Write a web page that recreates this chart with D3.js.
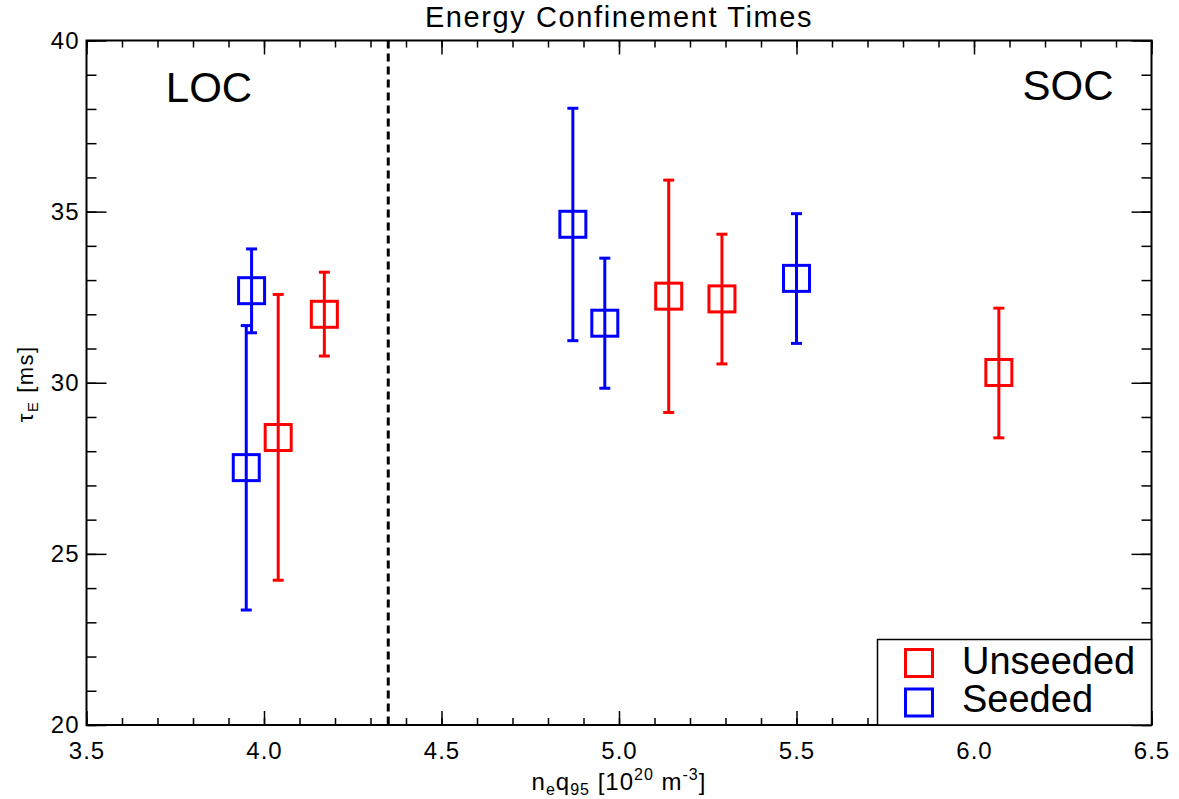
<!DOCTYPE html>
<html lang="en">

<head>
    <meta charset="UTF-8">
    <title>Energy Confinement Times</title>
    <script src="https://d3js.org/d3.v7.min.js"></script>
    <style>
        * {
            margin: 0;
            padding: 0;
        }

        body {
            background: #fff;
        }

        text {
            font-family: "Liberation Sans", Arial, Helvetica, sans-serif;
            fill: #000;
        }
    </style>
</head>

<body>
    <script>
        var width = 1179;
        var height = 799;
        var margin = { top: 40.5, right: 27.5, bottom: 74, left: 86.5 };

        // data
        var unseededX = [4.04, 4.17, 5.14, 5.29, 6.07];
        var unseededY = [28.4, 32.0, 32.53, 32.45, 30.3];
        var unseededLo = [24.23, 30.78, 29.13, 30.55, 28.39];
        var unseededHi = [32.58, 33.23, 35.92, 34.34, 32.18];

        var seededX = [3.95, 3.965, 4.87, 4.96, 5.50];
        var seededY = [27.52, 32.69, 34.63, 31.74, 33.05];
        var seededLo = [23.36, 31.46, 31.23, 29.84, 31.15];
        var seededHi = [31.67, 33.91, 38.02, 33.64, 34.94];

        var xTicks = [3.5, 4.0, 4.5, 5.0, 5.5, 6.0, 6.5];
        var yTicks = [20, 25, 30, 35, 40];
        var boundaryX = 4.35;

        var seriesNames = ['Unseeded', 'Seeded'];
        var seriesColors = ['#ff0000', '#0000ff'];

        var svg = d3.select('body')
            .append('svg')
            .attr('width', width)
            .attr('height', height);

        var xScale = d3.scaleLinear()
            .domain([3.5, 6.5])
            .range([margin.left, width - margin.right]);
        var yScale = d3.scaleLinear()
            .domain([20, 40])
            .range([height - margin.bottom, margin.top]);

        // minor ticks
        var xMinor = d3.range(35, 66).map(function (d) { return d / 10; });
        var yMinor = d3.range(20, 41);

        function styleAxis(g) {
            g.selectAll('.domain').remove();
            g.selectAll('line').attr('stroke', '#000').attr('stroke-width', 1.5);
            g.selectAll('text')
                .style('font-size', '24px')
                .style('letter-spacing', '1px')
                .attr('fill', '#000');
        }

        // bottom
        svg.append('g')
            .attr('transform', 'translate(0,' + yScale(20) + ')')
            .call(d3.axisBottom(xScale).tickValues(xMinor).tickSize(-7).tickFormat(''))
            .call(styleAxis);
        svg.append('g')
            .attr('transform', 'translate(0,' + yScale(20) + ')')
            .call(d3.axisBottom(xScale).tickValues(xTicks).tickSize(-14).tickPadding(17)
                .tickFormat(d3.format('.1f')))
            .call(styleAxis);
        // top
        svg.append('g')
            .attr('transform', 'translate(0,' + yScale(40) + ')')
            .call(d3.axisTop(xScale).tickValues(xMinor).tickSize(-7).tickFormat(''))
            .call(styleAxis);
        svg.append('g')
            .attr('transform', 'translate(0,' + yScale(40) + ')')
            .call(d3.axisTop(xScale).tickValues(xTicks).tickSize(-14).tickFormat(''))
            .call(styleAxis);
        // left
        svg.append('g')
            .attr('transform', 'translate(' + xScale(3.5) + ',0)')
            .call(d3.axisLeft(yScale).tickValues(yMinor).tickSize(-10).tickFormat(''))
            .call(styleAxis);
        svg.append('g')
            .attr('transform', 'translate(' + xScale(3.5) + ',0)')
            .call(d3.axisLeft(yScale).tickValues(yTicks).tickSize(-20).tickPadding(7)
                .tickFormat(d3.format('d')))
            .call(styleAxis);
        // right
        svg.append('g')
            .attr('transform', 'translate(' + xScale(6.5) + ',0)')
            .call(d3.axisRight(yScale).tickValues(yMinor).tickSize(-10).tickFormat(''))
            .call(styleAxis);
        svg.append('g')
            .attr('transform', 'translate(' + xScale(6.5) + ',0)')
            .call(d3.axisRight(yScale).tickValues(yTicks).tickSize(-20).tickFormat(''))
            .call(styleAxis);

        // frame
        svg.append('rect')
            .attr('x', xScale(3.5))
            .attr('y', yScale(40))
            .attr('width', xScale(6.5) - xScale(3.5))
            .attr('height', yScale(20) - yScale(40))
            .attr('fill', 'none')
            .attr('stroke', '#000')
            .attr('stroke-width', 2);

        // LOC / SOC boundary
        svg.append('line')
            .attr('x1', xScale(boundaryX))
            .attr('x2', xScale(boundaryX))
            .attr('y1', yScale(40))
            .attr('y2', yScale(20))
            .attr('stroke', '#000')
            .attr('stroke-width', 3)
            .attr('stroke-dasharray', '8,5');

        svg.append('text')
            .attr('x', xScale(3.845))
            .attr('y', yScale(38.2))
            .attr('text-anchor', 'middle')
            .style('font-size', '42px')
            .text('LOC');
        svg.append('text')
            .attr('x', xScale(6.265))
            .attr('y', yScale(38.25))
            .attr('text-anchor', 'middle')
            .style('font-size', '42px')
            .text('SOC');

        // points with error bars
        var series = [
            { x: unseededX, y: unseededY, lo: unseededLo, hi: unseededHi },
            { x: seededX, y: seededY, lo: seededLo, hi: seededHi }
        ];
        var capW = 11;
        var boxS = 26;

        series.forEach(function (s, k) {
            var pts = s.x.map(function (d, i) {
                return { x: d, y: s.y[i], lo: s.lo[i], hi: s.hi[i] };
            });
            var g = svg.append('g')
                .attr('stroke', seriesColors[k])
                .attr('stroke-width', 3)
                .attr('fill', 'none');

            var bars = g.selectAll('.bar')
                .data(pts)
                .enter()
                .append('g')
                .attr('class', 'bar');

            bars.append('line')
                .attr('x1', function (d) { return xScale(d.x); })
                .attr('x2', function (d) { return xScale(d.x); })
                .attr('y1', function (d) { return yScale(d.lo); })
                .attr('y2', function (d) { return yScale(d.hi); });
            bars.append('line')
                .attr('x1', function (d) { return xScale(d.x) - capW / 2; })
                .attr('x2', function (d) { return xScale(d.x) + capW / 2; })
                .attr('y1', function (d) { return yScale(d.hi); })
                .attr('y2', function (d) { return yScale(d.hi); });
            bars.append('line')
                .attr('x1', function (d) { return xScale(d.x) - capW / 2; })
                .attr('x2', function (d) { return xScale(d.x) + capW / 2; })
                .attr('y1', function (d) { return yScale(d.lo); })
                .attr('y2', function (d) { return yScale(d.lo); });
            bars.append('rect')
                .attr('x', function (d) { return xScale(d.x) - boxS / 2; })
                .attr('y', function (d) { return yScale(d.y) - boxS / 2; })
                .attr('width', boxS)
                .attr('height', boxS);
        });

        // title and axis labels
        svg.append('text')
            .attr('x', (xScale(3.5) + xScale(6.5)) / 2)
            .attr('y', 27)
            .attr('text-anchor', 'middle')
            .style('font-size', '29px')
            .style('letter-spacing', '1.6px')
            .text('Energy Confinement Times');

        var xLabel = svg.append('text')
            .attr('x', (xScale(3.5) + xScale(6.5)) / 2)
            .attr('y', 790)
            .attr('text-anchor', 'middle')
            .style('font-size', '24px')
            .style('letter-spacing', '1px');
        xLabel.append('tspan').text('n');
        xLabel.append('tspan').attr('dy', 5).style('font-size', '16px').text('e');
        xLabel.append('tspan').attr('dy', -5).text('q');
        xLabel.append('tspan').attr('dy', 5).style('font-size', '16px').text('95');
        xLabel.append('tspan').attr('dy', -5).text(' [10');
        xLabel.append('tspan').attr('dy', -10).style('font-size', '16px').text('20');
        xLabel.append('tspan').attr('dy', 10).text(' m');
        xLabel.append('tspan').attr('dy', -10).style('font-size', '16px').text('-3');
        xLabel.append('tspan').attr('dy', 10).text(']');

        var yLabel = svg.append('text')
            .attr('transform', 'translate(33,' + (yScale(30) + 1) + ') rotate(-90)')
            .attr('text-anchor', 'middle')
            .style('font-size', '22px')
            .style('letter-spacing', '1.5px');
        yLabel.append('tspan').text('τ');
        yLabel.append('tspan').attr('dy', 5).style('font-size', '15px').text('E');
        yLabel.append('tspan').attr('dy', -5).text('  [ms]');

        // legend
        var legend = svg.append('g');
        legend.append('rect')
            .attr('x', 877.5)
            .attr('y', 639.5)
            .attr('width', xScale(6.5) - 877.5)
            .attr('height', yScale(20) - 639.5)
            .attr('fill', '#fff')
            .attr('stroke', '#000')
            .attr('stroke-width', 1.5);

        seriesNames.forEach(function (name, i) {
            legend.append('rect')
                .attr('x', 905.5)
                .attr('y', 649.5 + i * 39.5)
                .attr('width', 27)
                .attr('height', 27)
                .attr('fill', 'none')
                .attr('stroke', seriesColors[i])
                .attr('stroke-width', 3);
            legend.append('text')
                .attr('x', 962)
                .attr('y', 673.5 + i * 38.5)
                .style('font-size', '38px')
                .text(name);
        });
    </script>
</body>

</html>
